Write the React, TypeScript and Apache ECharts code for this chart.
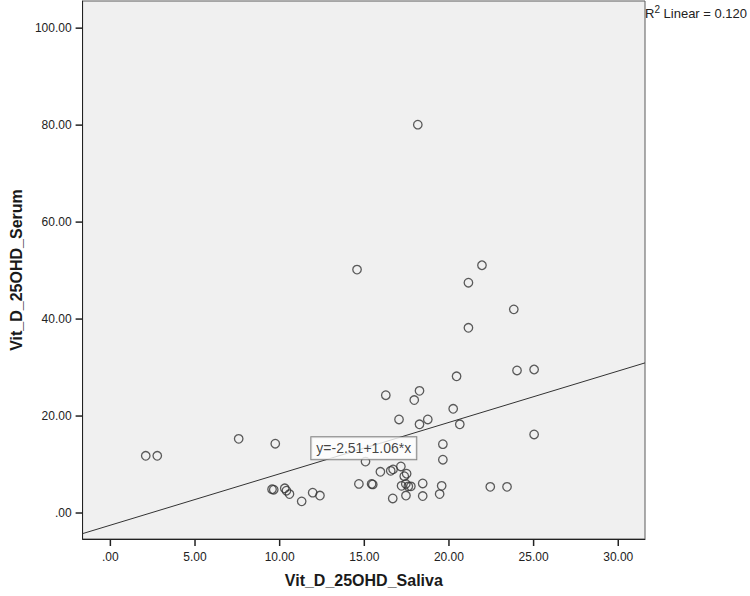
import React, { useEffect, useRef } from "react";
import * as echarts from "echarts";

const salivaValues = [
  2.09, 2.77, 7.58, 9.74, 9.55, 9.65, 10.3, 10.4, 10.58, 11.3, 11.95, 12.38,
  14.57, 14.68, 15.07, 15.43, 15.5, 15.95, 16.27, 16.56, 16.7, 16.68, 17.05,
  17.16, 17.36, 17.5, 17.2, 17.45, 17.6, 17.75, 17.46, 17.95, 18.16, 18.26,
  18.26, 18.75, 18.45, 18.45, 19.57, 19.45, 19.64, 19.64, 20.25, 20.45, 20.64,
  21.15, 21.15, 21.95, 22.44, 23.43, 23.83, 24.02, 25.03, 25.03,
];
const serumValues = [
  11.8, 11.8, 15.3, 14.3, 4.9, 4.8, 5.1, 4.6, 3.9, 2.4, 4.2, 3.6,
  50.2, 6.0, 10.6, 6.0, 5.9, 8.5, 24.3, 8.7, 9.0, 3.0, 19.3,
  9.6, 7.6, 8.1, 5.6, 6.0, 5.5, 5.5, 3.6, 23.3, 80.1, 25.2,
  18.3, 19.3, 6.1, 3.5, 5.6, 3.9, 14.2, 11.0, 21.5, 28.2, 18.3,
  47.5, 38.2, 51.1, 5.4, 5.4, 42.0, 29.4, 29.6, 16.2,
];
const xTickValues = [0, 5, 10, 15, 20, 25, 30];
const yTickValues = [0, 20, 40, 60, 80, 100];
const xRange = [-1.64, 31.58];
const yRange = [-5.36, 105.6];
const intercept = -2.51;
const slope = 1.06;
const rSquared = "0.120";
const xTitle = "Vit_D_25OHD_Saliva";
const yTitle = "Vit_D_25OHD_Serum";

const FONT = "'Liberation Sans', Arial, sans-serif";
const TICK_LEN = 7;
const TICK_W = 1.5;
const fmt = (v: number) => (v === 0 ? ".00" : v.toFixed(2));

export default function App() {
  const ref = useRef<HTMLDivElement>(null);
  useEffect(() => {
    if (!ref.current) return;
    const chart = echarts.init(ref.current, null, { renderer: "svg" });
    const points = salivaValues.map((x, i) => [x, serumValues[i]]);
    const fit = (x: number) => intercept + slope * x;
    const xMid = (xRange[0] + xRange[1]) / 2;
    const eq = `y=${intercept.toFixed(2)}+${slope.toFixed(2)}*x`;
    chart.setOption({
      animation: false,
      backgroundColor: "#ffffff",
      textStyle: { fontFamily: FONT },
      grid: {
        left: 78,
        right: 105,
        top: 1,
        bottom: 57,
        show: true,
        backgroundColor: "#f0f0f0",
        borderColor: "#5a5a5a",
        borderWidth: 1,
      },
      xAxis: {
        type: "value",
        min: xRange[0],
        max: xRange[1],
        name: xTitle,
        nameLocation: "middle",
        nameGap: 33,
        nameTextStyle: { fontFamily: FONT, fontWeight: "bold", fontSize: 16, color: "#1a1a1a" },
        axisLine: { show: true, onZero: false, lineStyle: { color: "#222", width: 1 } },
        axisTick: { show: false },
        axisLabel: {
          customValues: xTickValues,
          formatter: (v: number) => fmt(v),
          margin: 12,
          fontSize: 12,
          color: "#222",
          fontFamily: FONT,
        },
        splitLine: { show: false },
      },
      yAxis: {
        type: "value",
        min: yRange[0],
        max: yRange[1],
        name: yTitle,
        nameLocation: "middle",
        nameGap: 58,
        nameTextStyle: { fontFamily: FONT, fontWeight: "bold", fontSize: 16, color: "#1a1a1a" },
        axisLine: { show: true, onZero: false, lineStyle: { color: "#222", width: 1 } },
        axisTick: { show: false },
        axisLabel: {
          customValues: yTickValues,
          formatter: (v: number) => fmt(v),
          margin: 11,
          fontSize: 12,
          color: "#222",
          fontFamily: FONT,
        },
        splitLine: { show: false },
      },
      series: [
        {
          type: "line",
          data: [
            [xRange[0], fit(xRange[0])],
            [xRange[1], fit(xRange[1])],
          ],
          symbol: "none",
          silent: true,
          lineStyle: { color: "#333", width: 1 },
          z: 2,
        },
        {
          type: "scatter",
          data: points,
          symbol: "circle",
          symbolSize: 8.5,
          itemStyle: { color: "rgba(0,0,0,0)", borderColor: "#333", borderWidth: 1.3 },
          z: 3,
        },
        {
          type: "scatter",
          data: [[xMid, fit(xMid)]],
          symbol: "circle",
          symbolSize: 1,
          itemStyle: { color: "rgba(0,0,0,0)", borderWidth: 0 },
          silent: true,
          z: 5,
          label: {
            show: true,
            position: "inside",
            formatter: eq,
            fontSize: 14,
            fontFamily: FONT,
            color: "#111",
            backgroundColor: "#ffffff",
            borderColor: "#666",
            borderWidth: 1,
            padding: [4, 5, 4, 5],
          },
        },
        {
          type: "custom",
          silent: true,
          clip: false,
          z: 6,
          data: xTickValues.map((v) => [v, yRange[0]]),
          renderItem: (_params: any, api: any) => {
            const p = api.coord([api.value(0), api.value(1)]);
            return {
              type: "rect",
              shape: { x: p[0] - TICK_W / 2, y: p[1], width: TICK_W, height: TICK_LEN },
              style: { fill: "#222" },
            };
          },
        },
        {
          type: "custom",
          silent: true,
          clip: false,
          z: 6,
          data: yTickValues.map((v) => [xRange[0], v]),
          renderItem: (_params: any, api: any) => {
            const p = api.coord([api.value(0), api.value(1)]);
            return {
              type: "rect",
              shape: { x: p[0] - TICK_LEN, y: p[1] - TICK_W / 2, width: TICK_LEN, height: TICK_W },
              style: { fill: "#222" },
            };
          },
        },
      ],
      graphic: [
        {
          type: "text",
          left: 645,
          top: 4,
          style: {
            text: `{r|R}{s|2}{t| Linear = ${rSquared}}`,
            rich: {
              r: { fontSize: 13, fontFamily: FONT, fill: "#222", lineHeight: 16, verticalAlign: "bottom" },
              s: { fontSize: 10, fontFamily: FONT, fill: "#222", lineHeight: 16, verticalAlign: "top" },
              t: { fontSize: 13, fontFamily: FONT, fill: "#222", lineHeight: 16, verticalAlign: "bottom" },
            },
          },
        },
      ],
    });
    return () => chart.dispose();
  }, []);
  return (
    <div
      ref={ref}
      style={{ position: "fixed", left: 0, top: 0, width: 750, height: 596, background: "#fff" }}
    />
  );
}
